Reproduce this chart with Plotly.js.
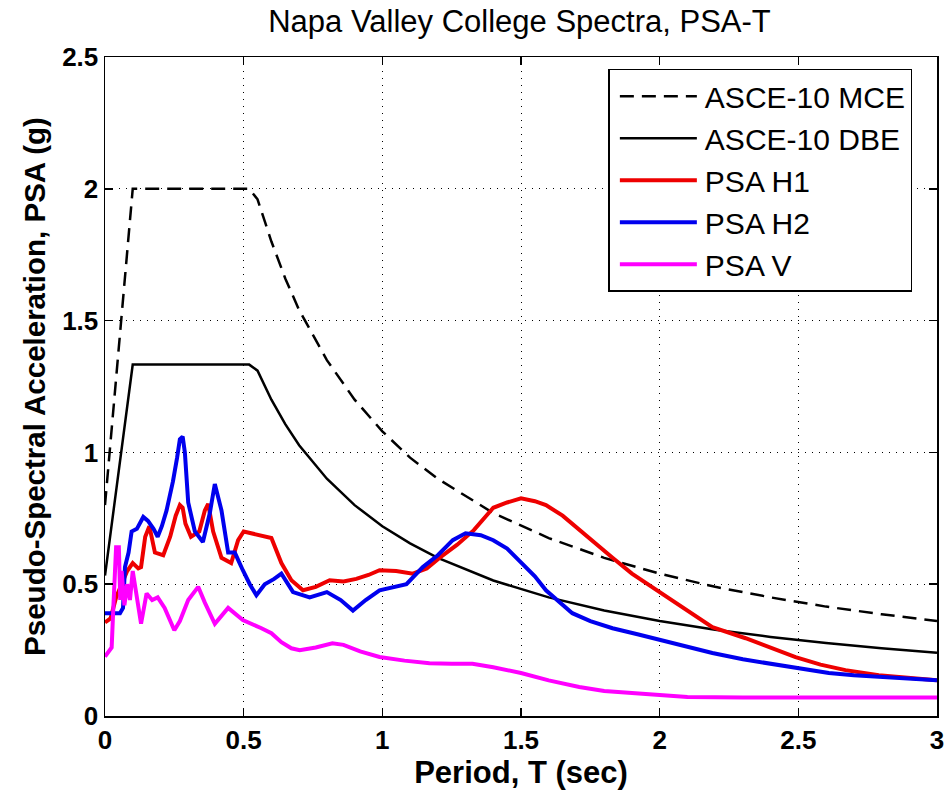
<!DOCTYPE html>
<html>
<head>
<meta charset="utf-8">
<script src="https://cdn.plot.ly/plotly-3.0.1.min.js"></script>
<style>html,body{margin:0;padding:0;background:#fff;}#chart{width:948px;height:794px;}</style>
</head>
<body>
<div id="chart"></div>
<script>
// Design spectra
const T_design = [0, 0.1, 0.52, 0.55, 0.6, 0.65, 0.7, 0.8, 0.9, 1.0, 1.1, 1.2, 1.4, 1.6, 1.8, 2.0, 2.2, 2.4, 2.6, 2.8, 3.0];
const MCE = [0.8, 2.0, 2.0, 1.96, 1.8, 1.66, 1.54, 1.35, 1.2, 1.08, 0.98, 0.9, 0.77, 0.675, 0.6, 0.54, 0.49, 0.45, 0.415, 0.386, 0.36];
const DBE = [0.533, 1.333, 1.333, 1.31, 1.2, 1.107, 1.027, 0.9, 0.8, 0.72, 0.655, 0.6, 0.514, 0.45, 0.4, 0.36, 0.327, 0.3, 0.277, 0.257, 0.24];

// PSA H1
const T_H1 = [0, 0.02, 0.04, 0.06, 0.08, 0.10, 0.12, 0.13, 0.145, 0.16, 0.18, 0.21, 0.235, 0.255, 0.27, 0.28, 0.29, 0.31, 0.34, 0.36, 0.372, 0.39, 0.42, 0.455, 0.48, 0.50, 0.54, 0.60, 0.636, 0.672, 0.714, 0.76, 0.81, 0.86, 0.906, 0.95, 0.99, 1.05, 1.11, 1.16, 1.206, 1.27, 1.33, 1.40, 1.45, 1.50, 1.55, 1.59, 1.65, 1.71, 1.77, 1.83, 1.9, 2.0, 2.1, 2.19, 2.31, 2.4, 2.49, 2.58, 2.67, 2.79, 2.9, 3.0];
const H1 = [0.355, 0.37, 0.45, 0.5, 0.55, 0.58, 0.56, 0.565, 0.68, 0.72, 0.62, 0.61, 0.68, 0.76, 0.80, 0.79, 0.73, 0.68, 0.70, 0.78, 0.805, 0.70, 0.60, 0.58, 0.667, 0.70, 0.69, 0.675, 0.58, 0.515, 0.477, 0.49, 0.515, 0.51, 0.52, 0.535, 0.553, 0.55, 0.54, 0.56, 0.60, 0.65, 0.705, 0.79, 0.81, 0.826, 0.815, 0.80, 0.76, 0.705, 0.65, 0.60, 0.54, 0.47, 0.40, 0.337, 0.295, 0.26, 0.223, 0.195, 0.174, 0.155, 0.145, 0.136];

// PSA H2
const T_H2 = [0, 0.054, 0.065, 0.072, 0.085, 0.096, 0.115, 0.138, 0.155, 0.175, 0.19, 0.205, 0.222, 0.245, 0.26, 0.27, 0.28, 0.288, 0.30, 0.324, 0.353, 0.378, 0.396, 0.42, 0.444, 0.468, 0.497, 0.522, 0.546, 0.576, 0.61, 0.636, 0.678, 0.738, 0.80, 0.85, 0.894, 0.94, 0.99, 1.04, 1.087, 1.146, 1.20, 1.254, 1.30, 1.355, 1.40, 1.45, 1.50, 1.55, 1.59, 1.64, 1.685, 1.75, 1.83, 1.92, 2.0, 2.1, 2.19, 2.3, 2.4, 2.49, 2.61, 2.7, 2.8, 2.9, 3.0];
const H2 = [0.39, 0.39, 0.41, 0.565, 0.62, 0.70, 0.71, 0.755, 0.74, 0.71, 0.68, 0.72, 0.78, 0.89, 0.98, 1.05, 1.06, 1.0, 0.81, 0.70, 0.66, 0.77, 0.88, 0.78, 0.62, 0.62, 0.553, 0.50, 0.458, 0.50, 0.52, 0.54, 0.47, 0.45, 0.47, 0.44, 0.40, 0.44, 0.477, 0.49, 0.50, 0.565, 0.61, 0.667, 0.693, 0.686, 0.667, 0.635, 0.583, 0.53, 0.477, 0.43, 0.39, 0.36, 0.333, 0.31, 0.288, 0.26, 0.239, 0.215, 0.198, 0.182, 0.163, 0.155, 0.148, 0.142, 0.136];

// PSA V
const T_V = [0, 0.024, 0.03, 0.04, 0.05, 0.055, 0.06, 0.07, 0.08, 0.09, 0.10, 0.12, 0.13, 0.15, 0.17, 0.19, 0.215, 0.25, 0.27, 0.30, 0.336, 0.36, 0.396, 0.444, 0.497, 0.564, 0.60, 0.636, 0.672, 0.702, 0.76, 0.82, 0.86, 0.92, 0.99, 1.08, 1.17, 1.25, 1.325, 1.4, 1.5, 1.6, 1.71, 1.8, 1.9, 2.0, 2.1, 2.3, 2.5, 2.75, 3.0];
const V = [0.225, 0.26, 0.41, 0.64, 0.64, 0.44, 0.55, 0.42, 0.50, 0.44, 0.55, 0.41, 0.35, 0.465, 0.44, 0.45, 0.41, 0.325, 0.36, 0.44, 0.49, 0.43, 0.35, 0.41, 0.364, 0.333, 0.314, 0.28, 0.257, 0.25, 0.26, 0.276, 0.27, 0.245, 0.224, 0.21, 0.20, 0.198, 0.198, 0.185, 0.163, 0.135, 0.11, 0.095, 0.087, 0.078, 0.072, 0.07, 0.07, 0.07, 0.07];

const names = ['ASCE-10 MCE', 'ASCE-10 DBE', 'PSA H1', 'PSA H2', 'PSA V'];

const FONT = 'Liberation Sans, Arial, sans-serif';

const traces = [
  {x: T_design, y: MCE, name: names[0], mode: 'lines', line: {color: '#000', width: 2.5, dash: '14px,8px'}},
  {x: T_design, y: DBE, name: names[1], mode: 'lines', line: {color: '#000', width: 2.5}},
  {x: T_H1, y: H1, name: names[2], mode: 'lines', line: {color: '#ee0000', width: 4}},
  {x: T_H2, y: H2, name: names[3], mode: 'lines', line: {color: '#0000ee', width: 4}},
  {x: T_V, y: V, name: names[4], mode: 'lines', line: {color: '#ff00ff', width: 4}}
];

const axisCommon = {
  showline: true, linecolor: '#000', linewidth: 1.5, mirror: 'allticks',
  ticks: 'inside', ticklen: 8, tickcolor: '#000', tickwidth: 1.5,
  showgrid: true, gridcolor: '#000', gridwidth: 1, griddash: '1px,6px',
  zeroline: false,
  tickfont: {family: FONT, size: 26, color: '#000', weight: 'bold'}
};

const layout = {
  width: 948, height: 794,
  paper_bgcolor: '#fff', plot_bgcolor: '#fff',
  margin: {l: 105, r: 11, t: 57, b: 78},
  title: {text: 'Napa Valley College Spectra, PSA-T', x: 0.548, xanchor: 'center', y: 0.973, yanchor: 'middle',
          font: {family: FONT, size: 31, color: '#000'}},
  xaxis: Object.assign({}, axisCommon, {range: [0, 3], dtick: 0.5, tick0: 0,
    title: {text: 'Period, T (sec)', standoff: 3, font: {family: FONT, size: 31, color: '#000', weight: 'bold'}}}),
  yaxis: Object.assign({}, axisCommon, {range: [0, 2.5], dtick: 0.5, tick0: 0,
    title: {text: 'Pseudo-Spectral Acceleration, PSA (g)', standoff: 8, font: {family: FONT, size: 29.5, color: '#000', weight: 'bold'}}}),
  showlegend: true,
  legend: {x: 0.605, y: 0.982, xanchor: 'left', yanchor: 'top', bgcolor: '#fff', bordercolor: '#000', borderwidth: 1.5,
           font: {family: FONT, size: 30, color: '#000'},
           traceorder: 'normal', itemwidth: 85, tracegroupgap: 0}
};

Plotly.newPlot('chart', traces, layout, {displayModeBar: false, staticPlot: true}).then(function (gd) {
  // lengthen the legend line samples to match the reference
  gd.querySelectorAll('.legend .legendlines path').forEach(function (p) {
    p.setAttribute('d', 'M10,0h77');
  });
});
</script>
</body>
</html>
